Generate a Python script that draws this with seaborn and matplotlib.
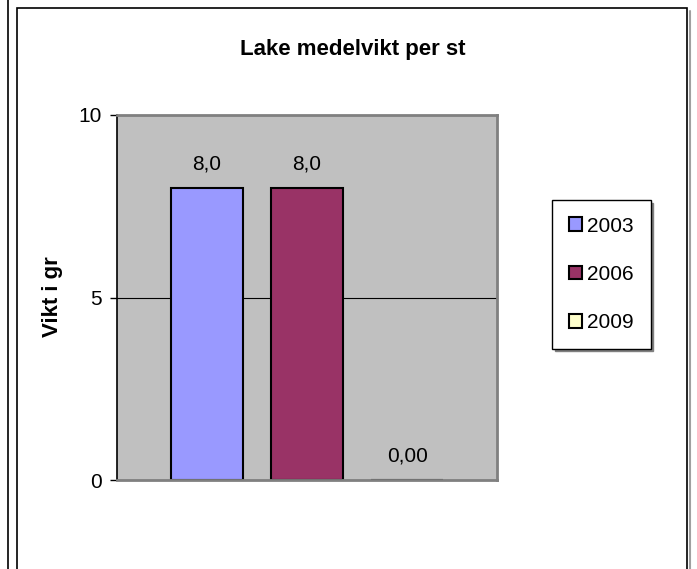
import matplotlib
matplotlib.use('Agg')
import matplotlib.pyplot as plt
import pandas as pd
import seaborn as sns
from matplotlib.patches import Rectangle
from matplotlib.lines import Line2D

# Data
years = ['2003', '2006', '2009']
weights = [8.0, 8.0, 0.0]
value_labels = ['8,0', '8,0', '0,00']
colors = ['#9999FF', '#993366', '#FFFFCC']
yticks = [0, 5, 10]

df = pd.DataFrame({'group': ['Lake'] * 3, 'year': years, 'weight': weights})

sns.set_style('white')
plt.rcParams['font.family'] = ['Liberation Sans', 'DejaVu Sans']
plt.rcParams['text.color'] = 'black'
plt.rcParams['ytick.color'] = 'black'
plt.rcParams['ytick.labelcolor'] = 'black'

fig = plt.figure(figsize=(6.97, 5.69), dpi=100)
W, H = 697, 569

# outer frames
fig.add_artist(Line2D([7.5 / W, 7.5 / W], [0, 1], color='black', lw=1.2))
fig.add_artist(Line2D([690 / W, 690 / W], [0, 1 - 11 / H], color='#A0A0A0', lw=1.5))
fig.add_artist(Rectangle((17 / W, -0.01), 670 / W, 1 - 8 / H + 0.01, transform=fig.transFigure,
                         fill=False, edgecolor='black', lw=1.2))

ax = fig.add_axes([117 / W, 1 - 480 / H, 380 / W, 365 / H])
ax.set_facecolor('#C0C0C0')

sns.barplot(data=df, x='group', y='weight', hue='year', palette=colors, saturation=1,
            width=0.79, gap=0.28, edgecolor='black', linewidth=1.5,
            ax=ax, legend=True)

for cont, lab in zip(ax.containers, value_labels):
    ax.bar_label(cont, labels=[lab], padding=10.5, fontsize=15, color='black')

ax.set_ylim(0, 10)
ax.set_xlim(-0.5, 0.5)
ax.set_yticks(yticks)
ax.set_yticklabels([str(t) for t in yticks], fontsize=15)
ax.tick_params(axis='y', direction='out', length=5, width=1, color='black', pad=6, left=True)
ax.set_xticks([])
ax.set_xlabel('')
ax.set_ylabel('')
ax.yaxis.grid(True, color='black', lw=0.8)
ax.set_axisbelow(True)

for side in ['top', 'right', 'bottom']:
    ax.spines[side].set_color('#808080')
    ax.spines[side].set_linewidth(2)
ax.spines['left'].set_color('black')
ax.spines['left'].set_linewidth(1.2)

fig.text(53 / W, 1 - 297 / H, 'Vikt i gr', rotation=90, ha='center', va='center',
         fontsize=16, fontweight='bold')
fig.text(353 / W, 1 - 49 / H, 'Lake medelvikt per st', ha='center', va='center',
         fontsize=16, fontweight='bold')

handles, labels = ax.get_legend_handles_labels()
leg = ax.legend(handles, labels, loc='upper left', bbox_to_anchor=(552 / W, 1 - 200 / H),
                bbox_transform=fig.transFigure, fontsize=15, frameon=True,
                fancybox=False, shadow={'color': '#808080', 'alpha': 1},
                handlelength=0.65, handleheight=0.65, handletextpad=0.25,
                labelspacing=1.4, borderpad=0.8, borderaxespad=0)
leg.get_frame().set_edgecolor('black')
leg.get_frame().set_linewidth(1)

fig.savefig('out.png', dpi=100)
